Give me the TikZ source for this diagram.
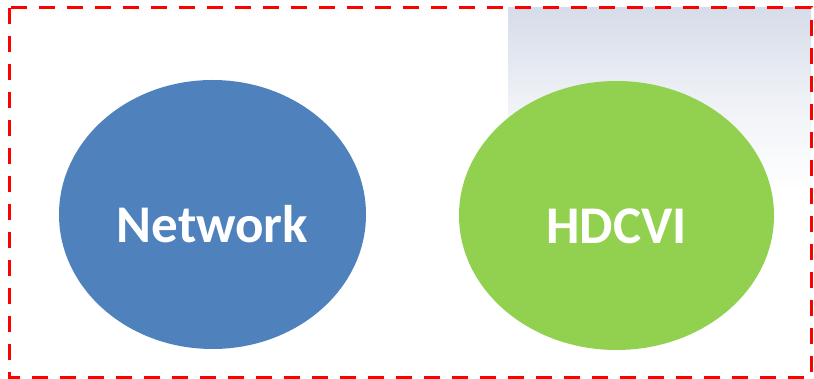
\documentclass[tikz,border=0pt]{standalone}
\usepackage{fontspec}
\setmainfont{Carlito}
\usetikzlibrary{shapes.geometric}
\definecolor{netblue}{RGB}{79,129,189}
\definecolor{cvigreen}{RGB}{146,208,80}
\definecolor{shadegray}{RGB}{214,220,233}

\begin{document}
\begin{tikzpicture}[x=1pt,y=-1pt,inner sep=0pt,
  blob/.style={ellipse,minimum height=269pt,text=white,text height=56pt,text depth=0pt,
    font=\fontsize{53}{58}\selectfont\bfseries}]
\useasboundingbox (0,0) rectangle (814,379);
\shade [top color=shadegray,bottom color=white,middle color=shadegray!40] (508,8) rectangle (811,190);
\draw [red,line width=3pt,dash pattern=on 16pt off 12pt] (9,8) rectangle (811,377);
\draw node [blob,fill=netblue,minimum width=307pt] (net) at (212.5,214.5) {Network};
\draw node [blob,fill=cvigreen,minimum width=315pt] (cvi) at (616.5,215.5) {HDCVI};
\end{tikzpicture}
\end{document}
